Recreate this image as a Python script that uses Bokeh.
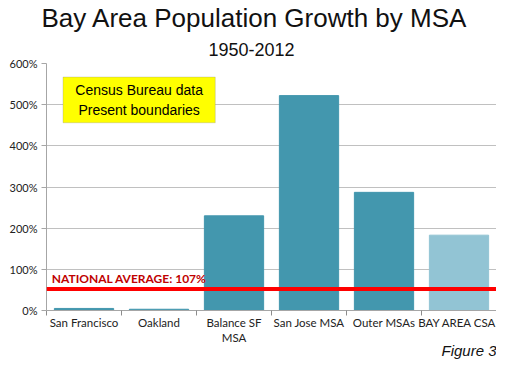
from bokeh.plotting import figure
from bokeh.models import (ColumnDataSource, FactorRange, Range1d, LinearAxis,
                          CategoricalAxis, FixedTicker, PrintfTickFormatter,
                          Span, Label, Title, BoxAnnotation)
from bokeh.embed import file_html
from bokeh.resources import INLINE

# ---- data ----
categories = ["San Francisco", "Oakland", "Balance SF\nMSA", "San Jose MSA",
              "Outer MSAs", "BAY AREA CSA"]
growth_pct = [5, 3, 230, 522, 287, 183]
bar_colors = ["#4397AE", "#4397AE", "#4397AE", "#4397AE", "#4397AE", "#92C4D4"]
y_ticks = [0, 100, 200, 300, 400, 500, 600]
national_line_pct = 52
national_label = "NATIONAL AVERAGE: 107%"
note_lines = "Census Bureau data\nPresent boundaries"
title_text = "Bay Area Population Growth by MSA"
subtitle_text = "1950-2012"
figure_text = "Figure 3"

src = ColumnDataSource(dict(cat=categories, val=growth_pct, color=bar_colors))

p = figure(width=496, height=363, x_range=FactorRange(*categories),
           y_range=Range1d(0, 600), output_backend="svg", toolbar_location=None,
           x_axis_location=None, min_border_left=46, min_border_right=0,
           min_border_top=10, min_border_bottom=53)
p.title.text = ""
p.outline_line_color = None
p.background_fill_color = "white"

# titles
p.add_layout(Title(text=subtitle_text, align="left", text_font="Liberation Sans",
                   text_font_size="18px", text_font_style="normal", offset=162,
                   text_color="#111111", standoff=16), "above")
p.add_layout(Title(text=title_text, align="left", text_font="Liberation Sans",
                   text_font_size="26px", text_font_style="normal", offset=-5,
                   text_color="#111111", standoff=0), "above")

# bars
p.vbar(x="cat", top="val", width=0.79, bottom=0, color="color", source=src,
       line_color="color")

# y axis
p.yaxis.ticker = FixedTicker(ticks=y_ticks)
p.yaxis.formatter = PrintfTickFormatter(format="%d%%")
p.yaxis.axis_line_color = "#A6A6A6"
p.yaxis.major_tick_line_color = "#A6A6A6"
p.yaxis.major_tick_out = 5
p.yaxis.major_tick_in = 0
p.yaxis.minor_tick_line_color = None
p.yaxis.major_label_text_font = "Lato"
p.yaxis.major_label_text_font_size = "11px"
p.yaxis.major_label_text_color = "#222222"
p.yaxis.major_label_standoff = 4
p.ygrid.grid_line_color = "#C0C0C0"
p.xgrid.grid_line_color = None

# x axis: boundary ticks (synthetic category coordinates) + category labels
tick_axis = LinearAxis(ticker=FixedTicker(ticks=list(range(len(categories) + 1))))
tick_axis.axis_line_color = "#A6A6A6"
tick_axis.major_tick_line_color = "#8C8C8C"
tick_axis.major_tick_out = 5
tick_axis.major_tick_in = 0
tick_axis.minor_tick_line_color = None
tick_axis.major_label_text_font_size = "0px"
tick_axis.major_label_text_color = None
tick_axis.major_label_standoff = 0
p.add_layout(tick_axis, "below")

cat_axis = CategoricalAxis()
cat_axis.axis_line_color = None
cat_axis.major_tick_line_color = None
cat_axis.major_tick_out = 0
cat_axis.major_label_text_font = "Lato"
cat_axis.major_label_text_font_size = "11.5px"
cat_axis.major_label_text_color = "#222222"
cat_axis.major_label_standoff = 0
p.add_layout(cat_axis, "below")

p.add_layout(Title(text=figure_text, align="right", text_font="Liberation Sans",
                   text_font_size="15px", text_font_style="italic",
                   text_color="#111111", standoff=-16, offset=0), "below")

# national average
p.add_layout(Span(location=national_line_pct, dimension="width",
                  line_color="#FF0000", line_width=4))
p.add_layout(Label(x=0.07, y=national_line_pct + 8, text=national_label,
                   text_font="Lato", text_font_style="bold", text_font_size="12px",
                   text_color="#C00000", text_baseline="bottom"))

# note box
p.add_layout(BoxAnnotation(left=0.22, right=2.25, bottom=456, top=567,
                           fill_color="#FFFF00", fill_alpha=1.0,
                           line_color="#8C8C8C", line_width=1))
p.add_layout(Label(x=1.235, y=511.5, text=note_lines, text_align="center",
                   text_baseline="middle", text_font="Liberation Sans",
                   text_font_size="14px", text_color="#000000"))

open("out.html", "w").write(file_html(p, INLINE))
